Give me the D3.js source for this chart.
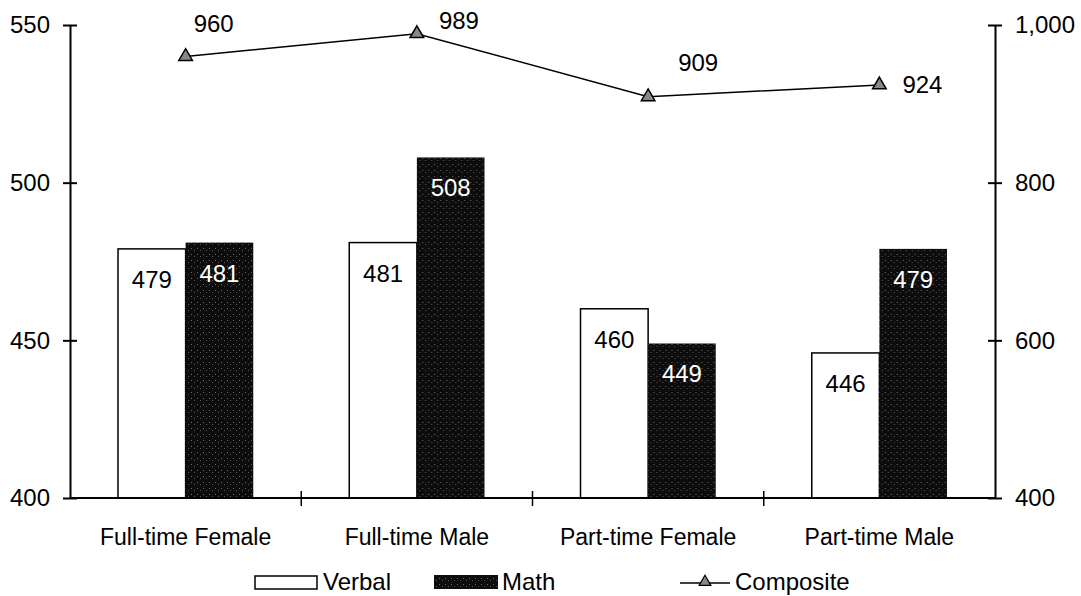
<!DOCTYPE html>
<html>
<head>
<meta charset="utf-8">
<script src="https://cdn.jsdelivr.net/npm/d3@7"></script>
<style>
  body { margin: 0; background: #fff; }
  text { font-family: "Liberation Sans", Arial, sans-serif; fill: #000; }
</style>
</head>
<body>
<div id="chart"></div>
<script>
var width = 1081;
var height = 596;

var categories = ["Full-time Female", "Full-time Male", "Part-time Female", "Part-time Male"];
var verbal = [479, 481, 460, 446];
var math = [481, 508, 449, 479];
var composite = [960, 989, 909, 924];
var leftTicks = [400, 450, 500, 550];
var rightTicks = [400, 600, 800, 1000];

var plotLeft = 70, plotRight = 995, plotTop = 25, plotBottom = 498;

var svg = d3.select("#chart").append("svg")
  .attr("width", width)
  .attr("height", height);

// dithered dark fill like the scanned original
var defs = svg.append("defs");
var pat = defs.append("pattern")
  .attr("id", "dither")
  .attr("width", 6).attr("height", 6)
  .attr("patternUnits", "userSpaceOnUse");
pat.append("rect").attr("width", 6).attr("height", 6).attr("fill", "#0d0d0d");
pat.append("rect").attr("x", 1).attr("y", 2).attr("width", 1).attr("height", 1).attr("fill", "#6a6a6a");
pat.append("rect").attr("x", 4).attr("y", 4).attr("width", 1).attr("height", 1).attr("fill", "#555");

var x = d3.scaleBand().domain(categories).range([plotLeft, plotRight]);
var xSub = d3.scaleBand().domain(["verbal", "math"]).range([0, x.bandwidth()]).paddingOuter(0.71).paddingInner(0);
var y = d3.scaleLinear().domain([400, 550]).range([plotBottom, plotTop]);
var y2 = d3.scaleLinear().domain([400, 1000]).range([plotBottom, plotTop]);

// bars
var groups = svg.selectAll("g.group")
  .data(categories)
  .enter().append("g")
  .attr("class", "group")
  .attr("transform", d => "translate(" + x(d) + ",0)");

groups.append("rect")
  .attr("x", xSub("verbal"))
  .attr("y", (d, i) => y(verbal[i]))
  .attr("width", xSub.bandwidth())
  .attr("height", (d, i) => plotBottom - y(verbal[i]))
  .attr("fill", "#fff")
  .attr("stroke", "#000")
  .attr("stroke-width", 1.5);

groups.append("rect")
  .attr("x", xSub("math"))
  .attr("y", (d, i) => y(math[i]))
  .attr("width", xSub.bandwidth())
  .attr("height", (d, i) => plotBottom - y(math[i]))
  .attr("fill", "url(#dither)");

groups.append("text")
  .attr("x", xSub("verbal") + xSub.bandwidth() / 2)
  .attr("y", (d, i) => y(verbal[i]) + 39)
  .attr("text-anchor", "middle")
  .style("font-size", "24px")
  .text((d, i) => verbal[i]);

groups.append("text")
  .attr("x", xSub("math") + xSub.bandwidth() / 2)
  .attr("y", (d, i) => y(math[i]) + 39)
  .attr("text-anchor", "middle")
  .style("font-size", "24px")
  .style("fill", "#fff")
  .text((d, i) => math[i]);

// axes
var axisLeft = d3.axisLeft(y).tickValues(leftTicks).tickSize(0).tickPadding(20).tickFormat(d3.format("d"));
var gl = svg.append("g").attr("transform", "translate(" + plotLeft + ",0)").call(axisLeft);
var axisRight = d3.axisRight(y2).tickValues(rightTicks).tickSize(0).tickPadding(20).tickFormat(d3.format(","));
var gr = svg.append("g").attr("transform", "translate(" + plotRight + ",0)").call(axisRight);
[gl, gr].forEach(function(g) {
  g.select(".domain").attr("stroke", "#000").attr("stroke-width", 2);
  g.selectAll("text").style("font-size", "24px").attr("fill", "#000");
  g.selectAll(".tick").append("line").attr("x1", -7).attr("x2", 7).attr("stroke", "#000").attr("stroke-width", 2);
});

// baseline with category ticks
svg.append("line")
  .attr("x1", plotLeft).attr("x2", plotRight)
  .attr("y1", plotBottom).attr("y2", plotBottom)
  .attr("stroke", "#000").attr("stroke-width", 2);
svg.selectAll("line.ctick")
  .data(categories.slice(1))
  .enter().append("line")
  .attr("class", "ctick")
  .attr("x1", d => x(d)).attr("x2", d => x(d))
  .attr("y1", plotBottom - 7).attr("y2", plotBottom + 8)
  .attr("stroke", "#000").attr("stroke-width", 1.5);

svg.selectAll("text.cat")
  .data(categories)
  .enter().append("text")
  .attr("class", "cat")
  .attr("x", d => x(d) + x.bandwidth() / 2)
  .attr("y", 545)
  .attr("text-anchor", "middle")
  .style("font-size", "23px")
  .text(d => d);

// composite line
var cx = d => x(d) + x.bandwidth() / 2;
var line = d3.line()
  .x((d, i) => cx(categories[i]))
  .y(d => y2(d));
svg.append("path")
  .datum(composite)
  .attr("d", line)
  .attr("fill", "none")
  .attr("stroke", "#000")
  .attr("stroke-width", 1.5);

var tri = d3.symbol().type(d3.symbolTriangle).size(80);
svg.selectAll("path.marker")
  .data(composite)
  .enter().append("path")
  .attr("class", "marker")
  .attr("d", tri)
  .attr("transform", (d, i) => "translate(" + cx(categories[i]) + "," + y2(d) + ")")
  .attr("fill", "#888")
  .attr("stroke", "#000")
  .attr("stroke-width", 1.5);

// where each composite label sits relative to its marker (dx, dy to baseline)
var labelOffsets = [[8, -25], [22, -5], [30, -26], [23, 8]];
svg.selectAll("text.comp")
  .data(composite)
  .enter().append("text")
  .attr("class", "comp")
  .attr("x", (d, i) => cx(categories[i]) + labelOffsets[i][0])
  .attr("y", (d, i) => y2(d) + labelOffsets[i][1])
  .style("font-size", "24px")
  .text(d => d3.format(",")(d));

// legend
var ly = 582;
var legend = svg.append("g");
legend.append("rect").attr("x", 255).attr("y", ly - 6).attr("width", 62).attr("height", 13)
  .attr("fill", "#fff").attr("stroke", "#000").attr("stroke-width", 1.5);
legend.append("text").attr("x", 323).attr("y", ly + 8).style("font-size", "24px").text("Verbal");
legend.append("rect").attr("x", 434).attr("y", ly - 7).attr("width", 64).attr("height", 14)
  .attr("fill", "url(#dither)");
legend.append("text").attr("x", 502).attr("y", ly + 8).style("font-size", "24px").text("Math");
legend.append("line").attr("x1", 680).attr("x2", 730).attr("y1", ly + 1).attr("y2", ly + 1)
  .attr("stroke", "#000").attr("stroke-width", 1.5);
legend.append("path").attr("d", d3.symbol().type(d3.symbolTriangle).size(60))
  .attr("transform", "translate(705," + ly + ")")
  .attr("fill", "#888").attr("stroke", "#000").attr("stroke-width", 1.2);
legend.append("text").attr("x", 735).attr("y", ly + 8).style("font-size", "24px").text("Composite");
</script>
</body>
</html>
